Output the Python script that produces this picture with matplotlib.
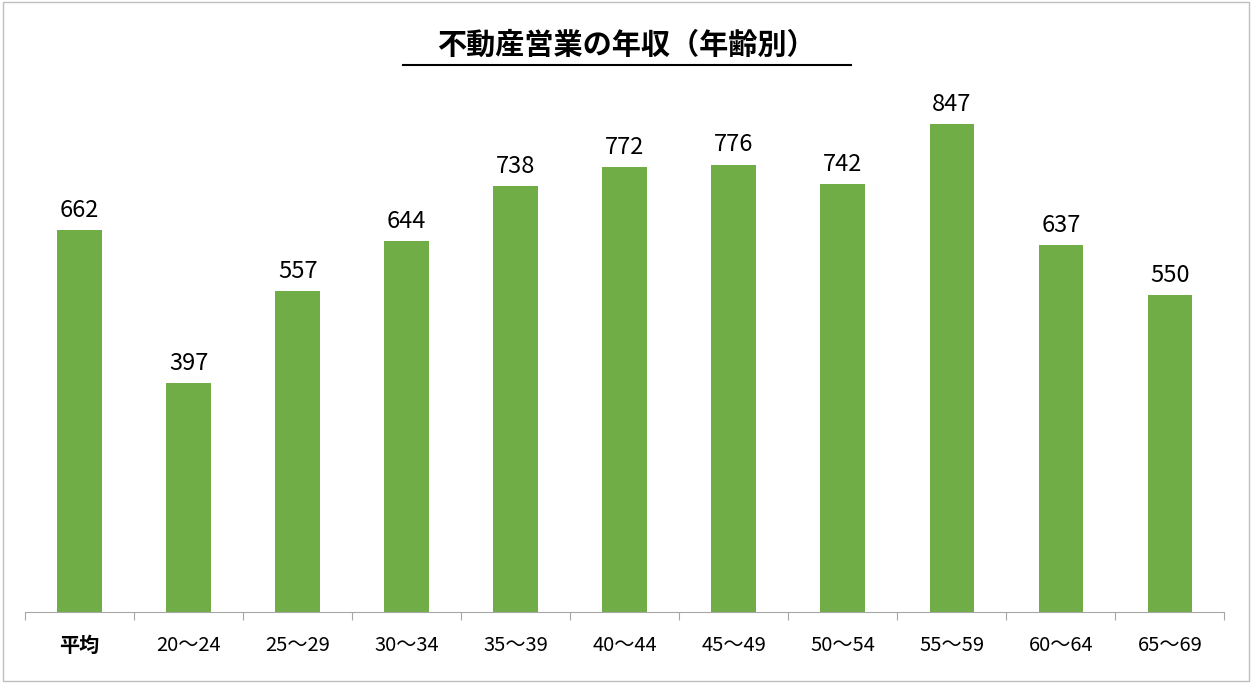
import matplotlib
matplotlib.use("Agg")
import matplotlib.pyplot as plt
from matplotlib.patches import Rectangle

plt.rcParams['font.family'] = ['Noto Sans CJK JP', 'DejaVu Sans']

categories = ["平均", "20〜24", "25〜29", "30〜34", "35〜39", "40〜44", "45〜49", "50〜54", "55〜59", "60〜64", "65〜69"]
values = [662, 397, 557, 644, 738, 772, 776, 742, 847, 637, 550]
title = "不動産営業の年収（年齢別）"

fig = plt.figure(figsize=(12.52, 6.83), dpi=100)
ax = fig.add_axes([0.02, 0.104, 0.958, 0.7935])
x = list(range(len(categories)))
ax.bar(x, values, width=0.41, color="#70AD47")
for xi, v in zip(x, values):
    ax.text(xi, v + 14, str(v), ha="center", va="bottom", fontsize=17)
ax.set_xlim(-0.5, len(categories) - 0.5)
ax.set_ylim(0, 940)
ax.set_yticks([])
for s in ["top", "right", "left"]:
    ax.spines[s].set_visible(False)
ax.spines["bottom"].set_color("#A6A6A6")
ax.set_xticks([i - 0.5 for i in range(len(categories) + 1)], minor=False)
ax.set_xticklabels([])
ax.tick_params(axis="x", length=6, color="#A6A6A6")
for xi, c in zip(x, categories):
    ax.text(xi, -0.042, c, transform=ax.get_xaxis_transform(), ha="center", va="top",
            fontsize=14.5, fontweight="bold" if c == "平均" else "normal")
fig.text(0.5, 0.934, title, ha="center", va="center", fontsize=21, fontweight="bold")
fig.add_artist(plt.Line2D([0.322, 0.68], [0.905, 0.905], color="black", lw=1.5))
fig.add_artist(Rectangle((0.002, 0.003), 0.996, 0.994, fill=False, ec="#BFBFBF", lw=1, transform=fig.transFigure))
fig.savefig("out.png", dpi=100)
